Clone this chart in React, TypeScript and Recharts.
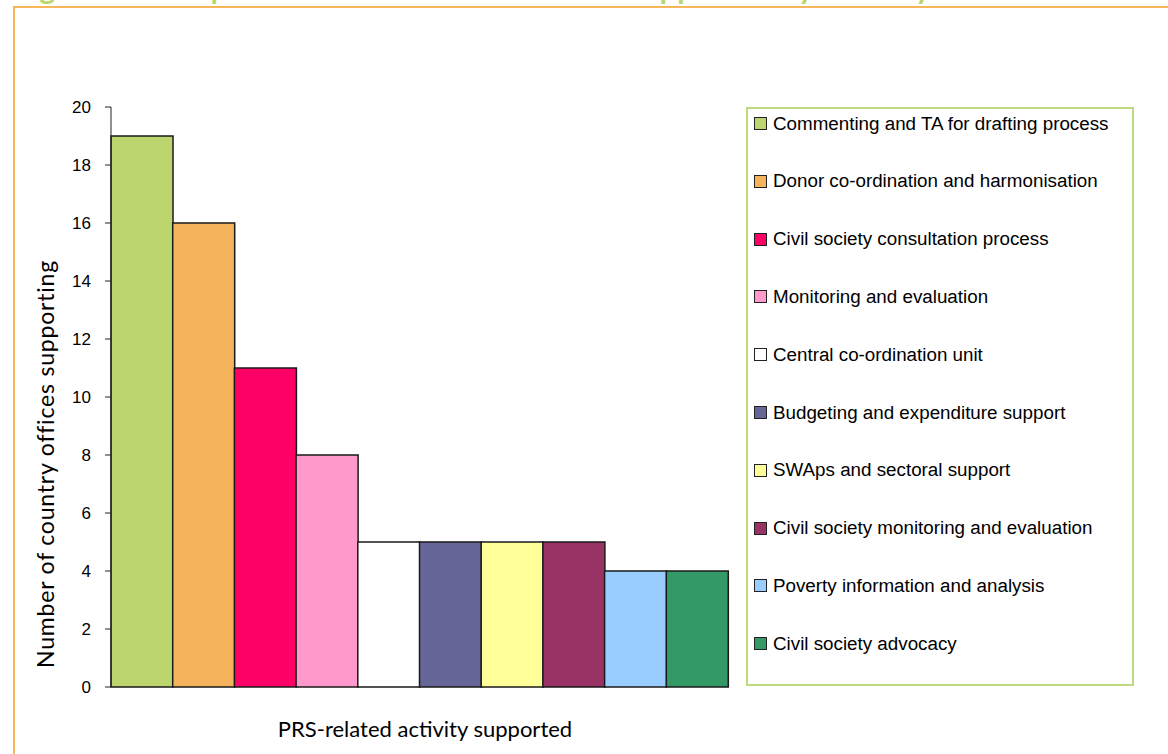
import React from "react";
import { BarChart, Bar, Cell, XAxis, YAxis } from "recharts";

const categories = [
  "Commenting and TA for drafting process",
  "Donor co-ordination and harmonisation",
  "Civil society consultation process",
  "Monitoring and evaluation",
  "Central co-ordination unit",
  "Budgeting and expenditure support",
  "SWAps and sectoral support",
  "Civil society monitoring and evaluation",
  "Poverty information and analysis",
  "Civil society advocacy",
];

const officeCounts = [19, 16, 11, 8, 5, 5, 5, 5, 4, 4];

const barColors = [
  "#BCD56E",
  "#F5B35C",
  "#FF0066",
  "#FF99CC",
  "#FFFFFF",
  "#666699",
  "#FFFF99",
  "#993366",
  "#99CCFF",
  "#339966",
];

const yTicks = [0, 2, 4, 6, 8, 10, 12, 14, 16, 18, 20];

const data = categories.map((name, i) => ({
  name,
  count: officeCounts[i],
  color: barColors[i],
}));

const tickFont = "'Liberation Sans', Arial, sans-serif";
const titleFont = "Lato, 'Open Sans', sans-serif";

const YTitle = () => (
  <text
    x={45}
    y={464}
    transform="rotate(-90 45 464)"
    textAnchor="middle"
    dominantBaseline="central"
    fontFamily={titleFont}
    fontSize={23}
    letterSpacing={0.8}
    fill="#000"
  >
    Number of country offices supporting
  </text>
);

const LegendBox = () => (
  <div
    style={{
      position: "absolute",
      left: 746,
      top: 107,
      width: 388,
      height: 579,
      boxSizing: "border-box",
      border: "2px solid #BDDB7E",
      fontFamily: tickFont,
      fontSize: 18.8,
      color: "#000",
    }}
  >
    {data.map((d, i) => (
      <div
        key={d.name}
        style={{
          position: "absolute",
          left: 6,
          top: 14.5 + i * 57.8 - 11,
          height: 22,
          display: "flex",
          alignItems: "center",
          whiteSpace: "nowrap",
        }}
      >
        <span
          style={{
            width: 13,
            height: 13,
            boxSizing: "border-box",
            border: "1.5px solid #222",
            background: d.color,
            marginRight: 6,
            flex: "none",
          }}
        />
        {d.name}
      </div>
    ))}
  </div>
);

export default function App() {
  return (
    <div
      style={{
        position: "absolute",
        left: 0,
        top: 0,
        width: 1168,
        height: 754,
        overflow: "hidden",
        background: "#fff",
      }}
    >
      {/* figure caption, cut off by the top edge */}
      <div
        style={{
          position: "absolute",
          left: 0,
          top: 0,
          width: 1168,
          height: 6,
          overflow: "hidden",
        }}
      >
        <div
          style={{
            position: "absolute",
            left: 13,
            top: -27.6,
            fontFamily: titleFont,
            fontWeight: 700,
            fontSize: 30,
            lineHeight: "30px",
            letterSpacing: 0.9,
            color: "#B7D66B",
            whiteSpace: "nowrap",
          }}
        >
          Figure 4: Components of the PRS activities supported by country
          offices
        </div>
      </div>

      {/* page frame */}
      <div
        style={{
          position: "absolute",
          left: 13,
          top: 6,
          width: 1200,
          height: 800,
          borderTop: "2px solid #F8B55A",
          borderLeft: "2px solid #F8B55A",
        }}
      />

      <BarChart
        width={1168}
        height={754}
        data={data}
        margin={{ top: 107, right: 440, bottom: 67, left: 51 }}
        barCategoryGap={0}
        style={{ position: "absolute", left: 0, top: 0 }}
      >
        <XAxis
          dataKey="name"
          height={0}
          tick={false}
          tickLine={false}
          axisLine={{ stroke: "#222", strokeWidth: 1.5 }}
        />
        <YAxis
          width={60}
          domain={[0, 20]}
          ticks={yTicks}
          interval={0}
          tickSize={6}
          tickMargin={14}
          tick={{ fontFamily: tickFont, fontSize: 17, fill: "#000" }}
          tickLine={{ stroke: "#222" }}
          axisLine={{ stroke: "#222", strokeWidth: 1 }}
          label={{ content: () => <YTitle /> }}
        />
        <Bar
          dataKey="count"
          isAnimationActive={false}
          stroke="#1a1a1a"
          strokeWidth={1.5}
        >
          {data.map((d) => (
            <Cell key={d.name} fill={d.color} />
          ))}
        </Bar>
      </BarChart>

      {/* x axis title */}
      <div
        style={{
          position: "absolute",
          left: 225,
          top: 717.5,
          width: 400,
          textAlign: "center",
          fontFamily: titleFont,
          fontSize: 22,
          lineHeight: "22px",
          color: "#000",
          whiteSpace: "nowrap",
        }}
      >
        PRS-related activity supported
      </div>

      <LegendBox />
    </div>
  );
}
